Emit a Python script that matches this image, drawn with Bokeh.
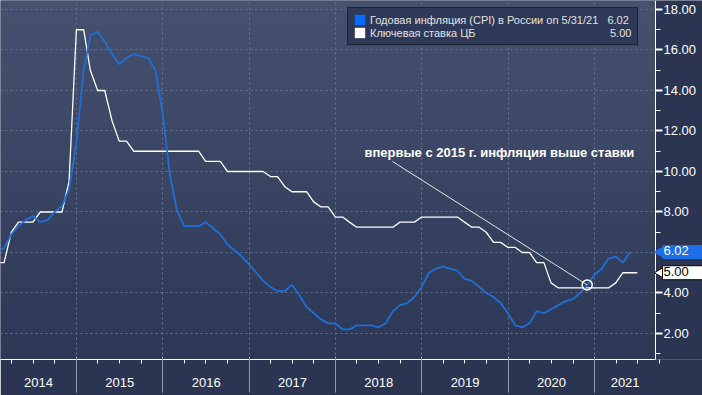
import math
import pandas as pd
from bokeh.plotting import figure
from bokeh.models import (Range1d, FixedTicker, NumeralTickFormatter, CustomJSTickFormatter,
                          DatetimeTickFormatter, DatetimeAxis, Label, BoxAnnotation, Span,
                          Legend, LegendItem)
from bokeh.embed import file_html
from bokeh.resources import INLINE

# ---------------- data (month-end values) ----------------
cpi_start = "2014-01-31"
cpi_values = [
    6.1, 6.2, 6.9, 7.3, 7.6, 7.8, 7.5, 7.6, 8.0, 8.3, 9.1, 11.4,      # 2014
    15.0, 16.7, 16.9, 16.4, 15.8, 15.3, 15.6, 15.8, 15.7, 15.6, 15.0, 12.9,  # 2015
    9.8, 8.1, 7.3, 7.3, 7.3, 7.5, 7.2, 6.9, 6.4, 6.1, 5.8, 5.4,       # 2016
    5.0, 4.6, 4.3, 4.1, 4.1, 4.4, 3.9, 3.3, 3.0, 2.7, 2.5, 2.5,       # 2017
    2.2, 2.2, 2.4, 2.4, 2.4, 2.3, 2.5, 3.1, 3.4, 3.5, 3.8, 4.3,       # 2018
    5.0, 5.2, 5.3, 5.2, 5.1, 4.7, 4.6, 4.3, 4.0, 3.8, 3.5, 3.0,       # 2019
    2.4, 2.3, 2.5, 3.1, 3.0, 3.2, 3.4, 3.6, 3.7, 4.0, 4.4, 4.9,       # 2020
    5.2, 5.7, 5.8, 5.5, 6.02,                                         # 2021
]
rate_start = "2014-01-31"
key_rate_values = [
    5.5, 5.5, 7.0, 7.5, 7.5, 7.5, 8.0, 8.0, 8.0, 8.0, 9.5, 17.0,      # 2014
    17.0, 15.0, 14.0, 14.0, 12.5, 11.5, 11.5, 11.0, 11.0, 11.0, 11.0, 11.0,  # 2015
    11.0, 11.0, 11.0, 11.0, 11.0, 10.5, 10.5, 10.5, 10.0, 10.0, 10.0, 10.0,  # 2016
    10.0, 10.0, 9.75, 9.75, 9.25, 9.0, 9.0, 9.0, 8.5, 8.25, 8.25, 7.75,      # 2017
    7.75, 7.5, 7.25, 7.25, 7.25, 7.25, 7.25, 7.25, 7.5, 7.5, 7.5, 7.75,      # 2018
    7.75, 7.75, 7.75, 7.75, 7.75, 7.5, 7.25, 7.25, 7.0, 6.5, 6.5, 6.25,      # 2019
    6.25, 6.0, 6.0, 5.5, 5.5, 4.5, 4.25, 4.25, 4.25, 4.25, 4.25, 4.25,       # 2020
    4.25, 4.25, 4.5, 5.0, 5.0, 5.0,                                          # 2021
]
years = [2014, 2015, 2016, 2017, 2018, 2019, 2020, 2021]
y_ticks = [2, 4, 6, 8, 10, 12, 14, 16, 18]
y_minor_ticks = [1, 3, 5, 7, 9, 11, 13, 15, 17]
legend_labels = ["Годовая инфляция (CPI) в России on 5/31/21", "Ключевая ставка ЦБ"]
annotation_text = "впервые с 2015 г. инфляция выше ставки"

# ---------------- layout constants ----------------
W, H = 702, 395             # canvas
PW, PH = 655, 359           # plotting area (left/top aligned)
X0 = pd.Timestamp("2014-02-13")
X1 = pd.Timestamp("2021-09-15")
Y0, Y1 = 0.716, 18.444
FONT = "Liberation Sans"
BG = "#2b3552"
CPI_COLOR = "#1f6fd6"
SWATCH_BLUE = "#0a6cff"
NBSP = "\u00a0"


def ms(ts):
    return pd.Timestamp(ts).timestamp() * 1000.0


x0_ms, x1_ms = ms(X0), ms(X1)
xend_ms = x0_ms + W / PW * (x1_ms - x0_ms)   # frame also covers the right-hand axis strip


def px_to_x(px):
    return x0_ms + px / PW * (x1_ms - x0_ms)


def py_to_y(py):
    return Y1 - py / PH * (Y1 - Y0)


cpi_dates = pd.date_range(cpi_start, periods=len(cpi_values), freq=pd.offsets.MonthEnd())
rate_dates = pd.date_range(rate_start, periods=len(key_rate_values), freq=pd.offsets.MonthEnd())

p = figure(frame_width=W, frame_height=PH, x_axis_type="datetime", y_axis_location="right",
           x_range=Range1d(x0_ms, xend_ms), y_range=Range1d(Y0, Y1),
           output_backend="svg", toolbar_location=None,
           min_border_left=0, min_border_top=0, min_border_right=0, min_border_bottom=H - PH,
           background_fill_color=BG, border_fill_color=BG, outline_line_color=None)

# vertical gradient of the plotting area
top_rgb = (0x45, 0x51, 0x6f)
bot_rgb = (0x2d, 0x38, 0x56)
NB = 40
step = (Y1 - Y0) / NB
for i in range(NB):
    f = i / (NB - 1)
    c = tuple(int(round(top_rgb[k] + (bot_rgb[k] - top_rgb[k]) * f)) for k in range(3))
    p.add_layout(BoxAnnotation(left=x0_ms, right=x1_ms,
                               top=Y1 - i * step + 0.01, bottom=Y1 - (i + 1) * step - 0.01,
                               fill_color="#%02x%02x%02x" % c, fill_alpha=1.0,
                               line_color=None, level="image"))

# ---------------- grids ----------------
jan1 = [ms(f"{y}-01-01") for y in years]
quarters = [ms(f"{y}-{m:02d}-01") for y in years for m in (4, 7, 10)]
p.ygrid.grid_line_color = "#66738f"
p.ygrid.grid_line_dash = "2 3"
try:
    xg = p.xgrid[0]
    xg.axis = None
    xg.ticker = FixedTicker(ticks=jan1)
    xg.grid_line_color = "#66738f"
    xg.grid_line_dash = "2 3"
except Exception:
    p.xgrid.visible = False
    for t in jan1:
        p.add_layout(Span(location=t, dimension="height", line_color="#66738f",
                          line_dash="2 3", level="underlay"))

# right-hand axis strip hides the grid there
p.add_layout(BoxAnnotation(left=x1_ms, fill_color=BG, fill_alpha=1.0, line_color=None,
                           level="underlay"))

# ---------------- x axes ----------------
centers = []
for y in years:
    a = max(ms(f"{y}-01-01"), x0_ms)
    b = min(ms(f"{y + 1}-01-01"), x1_ms)
    centers.append((a + b) / 2)
yr_fmt = DatetimeTickFormatter(microseconds="%Y", milliseconds="%Y", seconds="%Y", minsec="%Y",
                               minutes="%Y", hourmin="%Y", hours="%Y", days="%Y",
                               months="%Y", years="%Y")
LABEL_STANDOFF = 14
TICK_Q = 4
A_SIZE = TICK_Q + LABEL_STANDOFF + 15      # approx. height of the year-label axis

# axis 1: year labels, quarter ticks
xa = p.xaxis[0]
xa.bounds = (x0_ms, x1_ms)
xa.ticker = FixedTicker(ticks=centers, minor_ticks=quarters)
xa.formatter = yr_fmt
xa.major_tick_in = 0
xa.major_tick_out = 0
xa.minor_tick_in = 0
xa.minor_tick_out = TICK_Q
xa.minor_tick_line_color = "white"
xa.axis_line_color = "white"
xa.major_label_standoff = LABEL_STANDOFF
xa.major_label_text_color = "white"
xa.major_label_text_font = FONT
xa.major_label_text_font_size = "13px"

# axis 2: year separators reaching up to the plot edge and down to the bottom
xb = DatetimeAxis(ticker=FixedTicker(ticks=jan1), bounds=(x0_ms, x1_ms),
                  formatter=CustomJSTickFormatter(code="return ''"),
                  axis_line_color=None, major_tick_line_color="#8e97ab",
                  major_tick_in=A_SIZE, major_tick_out=max(H - PH - A_SIZE, 2),
                  minor_tick_in=0, minor_tick_out=0,
                  major_label_standoff=0, major_label_text_font_size="0px")
p.add_layout(xb, "below")

# ---------------- y axis (right) ----------------
ya = p.yaxis[0]
ya.fixed_location = x1_ms
ya.ticker = FixedTicker(ticks=y_ticks, minor_ticks=y_minor_ticks)
ya.formatter = NumeralTickFormatter(format="0.00")
ya.major_tick_in = 0
ya.major_tick_out = 7
ya.major_tick_line_width = 2
ya.major_tick_line_color = "white"
ya.minor_tick_in = 0
ya.minor_tick_out = 5
ya.minor_tick_line_color = "white"
ya.axis_line_color = "white"
ya.major_label_standoff = 1
ya.major_label_text_color = "white"
ya.major_label_text_font = FONT
ya.major_label_text_font_size = "13px"

# ---------------- series ----------------
r_rate = p.line(rate_dates, key_rate_values, line_color="white", line_width=1.3)
r_cpi = p.line(cpi_dates, cpi_values, line_color=CPI_COLOR, line_width=1.8)

# ---------------- annotation ----------------
idx = next(i for i in range(24, len(cpi_values)) if cpi_values[i] > key_rate_values[i])
cx, cy = ms(cpi_dates[idx]), cpi_values[idx]
p.segment(x0=[px_to_x(392)], y0=[py_to_y(161)], x1=[cx], y1=[cy],
          line_color="#e6e6e6", line_width=1)
p.scatter(x=[cx], y=[cy], size=10, marker="circle", fill_color=None,
          line_color="white", line_width=1.5)
p.add_layout(Label(x=px_to_x(364), y=py_to_y(152), text=annotation_text,
                   text_font=FONT, text_font_style="bold", text_font_size="13px",
                   text_color="white", text_baseline="middle"))

# ---------------- legend ----------------
# zero-area boxes at each series' last point act as the legend swatches
g_cpi = p.quad(left=[cpi_dates[-1]], right=[cpi_dates[-1]], top=[cpi_values[-1]],
               bottom=[cpi_values[-1]], fill_color=SWATCH_BLUE, line_color=None)
g_rate = p.quad(left=[rate_dates[-1]], right=[rate_dates[-1]], top=[key_rate_values[-1]],
                bottom=[key_rate_values[-1]], fill_color="white", line_color=None)
label_cpi = legend_labels[0] + NBSP * 3 + f"{cpi_values[-1]:.2f}"
label_rate = legend_labels[1] + NBSP * 44 + f"{key_rate_values[-1]:.2f}"
legend = Legend(items=[LegendItem(label=label_cpi, renderers=[g_cpi]),
                       LegendItem(label=label_rate, renderers=[g_rate])],
                location=(347, PH - 45), glyph_width=13, glyph_height=13,
                label_height=13, label_width=262, label_standoff=4,
                spacing=0, padding=5, margin=0,
                background_fill_color="#2e3957", background_fill_alpha=1.0,
                border_line_color="#0c0c12", border_line_width=1.5,
                label_text_color="#e2e2e2", label_text_font=FONT,
                label_text_font_size="11px", label_text_line_height=1.0)
p.add_layout(legend)

# value tags on the right axis
tags = [(cpi_values[-1], "#1c6fe8", "white", None),
        (key_rate_values[-1], "white", "black", "black")]
for val, bg, fg, border in tags:
    p.scatter(x=[px_to_x(660)], y=[val], marker="triangle", angle=math.pi / 2, size=11,
              fill_color=bg, line_color=border if border else bg, level="overlay")
    p.add_layout(Label(x=px_to_x(662), y=val, text=f"{val:.2f}",
                       text_align="left", text_baseline="middle", text_color=fg,
                       text_font=FONT, text_font_size="13px",
                       background_fill_color=bg, border_line_color=border,
                       padding=(1, 14, 1, 4), level="overlay"))

open("out.html", "w").write(file_html(p, INLINE))
